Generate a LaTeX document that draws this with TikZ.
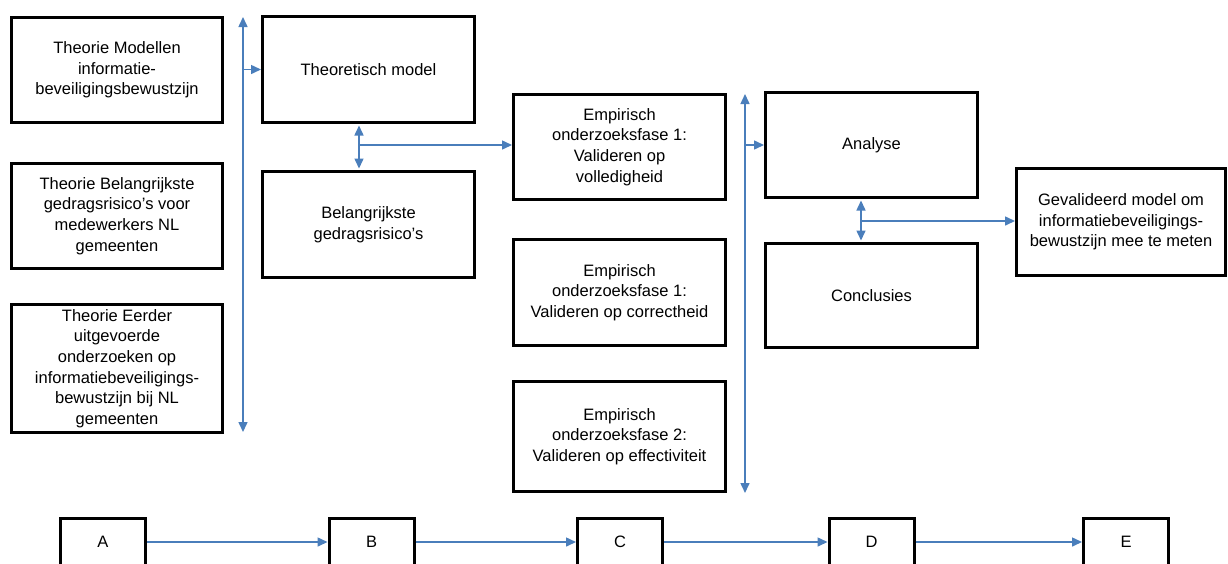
\documentclass[tikz,border=0pt]{standalone}
\usepackage{fontspec}
\setmainfont{Liberation Sans}
\usetikzlibrary{arrows.meta}
\definecolor{flow}{RGB}{74,126,187}
\begin{document}
\begin{tikzpicture}[x=1pt,y=-1pt,
  every node/.style={font=\fontsize{16.5}{20.7}\selectfont},
  box/.style={draw=black, line width=3pt, align=center, inner sep=0pt,
    minimum width=212pt, minimum height=106pt},
  stagebox/.style={draw=black, line width=3pt, align=center, inner sep=0pt,
    minimum width=85pt, minimum height=48pt},
  tip/.style={},
  link/.style={draw=flow, line width=1.5pt, -{Triangle[length=10pt,width=9pt]}},
  dlink/.style={draw=flow, line width=1.5pt, {Triangle[length=10pt,width=9pt]}-{Triangle[length=10pt,width=9pt]}}
]
\useasboundingbox (0,0) rectangle (1228,563);
\begin{scope}
\clip (0,0) rectangle (1228,563);

% theory inputs
\node[box, minimum width=211pt, minimum height=105pt] (t1) at (117,70)
  {Theorie Modellen\\informatie-\\beveiligingsbewustzijn};
\node[box, minimum width=211pt, minimum height=105pt] (t2) at (117,216)
  {Theorie Belangrijkste\\gedragsrisico's voor\\medewerkers NL\\gemeenten};
\node[box, minimum width=211pt, minimum height=128pt] (t3) at (117,368.5)
  {Theorie Eerder\\uitgevoerde\\onderzoeken op\\informatiebeveiligings-\\bewustzijn bij NL\\gemeenten};

% model
\node[box] (theo) at (368.5,69.5) {Theoretisch model};
\node[box] (bel) at (368.5,224.5) {Belangrijkste\\gedragsrisico's};

% empirical phases
\node[box, minimum height=105pt] (e1) at (619.5,147)
  {Empirisch\\onderzoeksfase 1:\\Valideren op\\volledigheid};
\node[box] (e2) at (619.5,292.5)
  {Empirisch\\onderzoeksfase 1:\\Valideren op correctheid};
\node[box, minimum height=110pt] (e3) at (619.5,436.5)
  {Empirisch\\onderzoeksfase 2:\\Valideren op effectiviteit};

% results
\node[box, minimum height=105pt] (ana) at (871.5,145) {Analyse};
\node[box, minimum height=104pt] (con) at (871.5,295.5) {Conclusies};
\node[box, minimum width=209pt, minimum height=107pt] (gev) at (1121,222)
  {Gevalideerd model om\\informatiebeveiligings-\\bewustzijn mee te meten};

% stages
\node[stagebox] (A) at (103,542) {A};
\node[stagebox] (B) at (371.5,542) {B};
\node[stagebox] (C) at (620,542) {C};
\node[stagebox] (D) at (871.5,542) {D};
\node[stagebox] (E) at (1126,542) {E};
\end{scope}

% collector lines
\coordinate (v1top) at (243,17);
\coordinate (v1bot) at (243,432);
\coordinate (v2top) at (745,94);
\coordinate (v2bot) at (745,493);
\draw[dlink] (v1top) -- (v1bot);
\draw[dlink] (v2top) -- (v2bot);
\draw[link] (theo.west -| v1top) -- (theo.west);
\draw[link] (ana.west -| v2top) -- (ana.west);

% model to first phase
\draw[dlink, shorten <=1.5pt, shorten >=1.5pt] ([xshift=-9.5pt]theo.south) -- ([xshift=-9.5pt]bel.north);
\coordinate (j1) at (359,145);
\draw[link] (j1) -- (e1.west |- j1);

% analysis to validated model
\draw[dlink, shorten <=1.5pt, shorten >=1.5pt] ([xshift=-10.5pt]ana.south) -- ([xshift=-10.5pt]con.north);
\coordinate (j2) at (861,221);
\draw[link] (j2) -- (gev.west |- j2);

% stage flow
\draw[link] (A.east) -- (B.west);
\draw[link] (B.east) -- (C.west);
\draw[link] (C.east) -- (D.west);
\draw[link] (D.east) -- (E.west);
\end{tikzpicture}
\end{document}
